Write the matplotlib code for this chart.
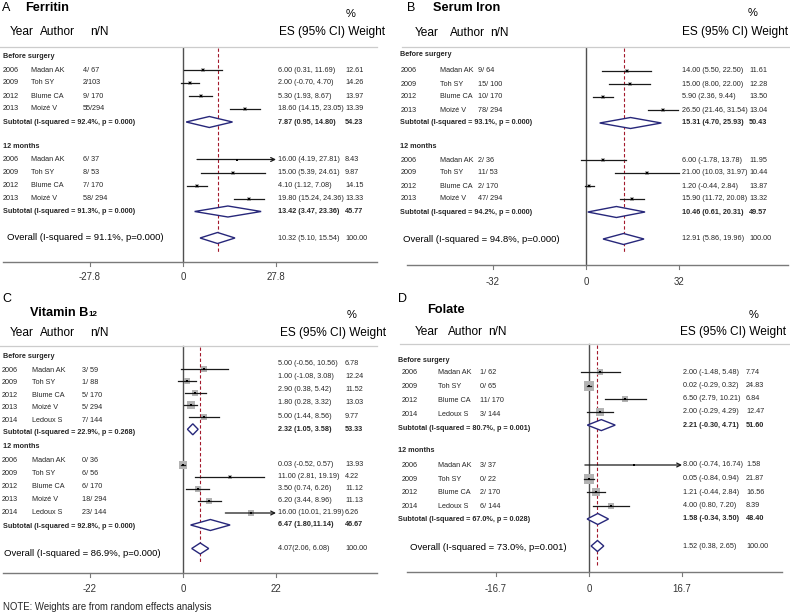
import math
import matplotlib
matplotlib.use("Agg")
import matplotlib.pyplot as plt
from matplotlib.patches import Polygon

plt.rcParams['font.family'] = ['Liberation Sans', 'DejaVu Sans']

# ------------------------------------------------------------------ data
authors4 = ["Madan AK", "Toh SY", "Blume CA", "Moizé V"]

# A: Ferritin
fer_years = ["2006", "2009", "2012", "2013"]
fer_authors = authors4
fer_nN_pre = ["4/ 67", "2/103", "9/ 170", "55/294"]
fer_es_pre = [6.00, 2.00, 5.30, 18.60]
fer_lo_pre = [0.31, -0.70, 1.93, 14.15]
fer_hi_pre = [11.69, 4.70, 8.67, 23.05]
fer_w_pre = [12.61, 14.26, 13.97, 13.39]
fer_nN_12 = ["6/ 37", "8/ 53", "7/ 170", "58/ 294"]
fer_es_12 = [16.00, 15.00, 4.10, 19.80]
fer_lo_12 = [4.19, 5.39, 1.12, 15.24]
fer_hi_12 = [27.81, 24.61, 7.08, 24.36]
fer_w_12 = [8.43, 9.87, 14.15, 13.33]
fer_sub_es = [7.87, 13.42]
fer_sub_lo = [0.95, 3.47]
fer_sub_hi = [14.80, 23.36]
fer_sub_w = [54.23, 45.77]
fer_sub_i2 = [92.4, 91.3]
fer_sub_p = ["0.000", "0.000"]
fer_all = [10.32, 5.10, 15.54]
fer_all_i2, fer_all_p = 91.1, "0.000"

# B: Serum Iron
iron_years = ["2006", "2009", "2012", "2013"]
iron_authors = authors4
iron_nN_pre = ["9/ 64", "15/ 100", "10/ 170", "78/ 294"]
iron_es_pre = [14.00, 15.00, 5.90, 26.50]
iron_lo_pre = [5.50, 8.00, 2.36, 21.46]
iron_hi_pre = [22.50, 22.00, 9.44, 31.54]
iron_w_pre = [11.61, 12.28, 13.50, 13.04]
iron_nN_12 = ["2/ 36", "11/ 53", "2/ 170", "47/ 294"]
iron_es_12 = [6.00, 21.00, 1.20, 15.90]
iron_lo_12 = [-1.78, 10.03, -0.44, 11.72]
iron_hi_12 = [13.78, 31.97, 2.84, 20.08]
iron_w_12 = [11.95, 10.44, 13.87, 13.32]
iron_sub_es = [15.31, 10.46]
iron_sub_lo = [4.70, 0.61]
iron_sub_hi = [25.93, 20.31]
iron_sub_w = [50.43, 49.57]
iron_sub_i2 = [93.1, 94.2]
iron_sub_p = ["0.000", "0.000"]
iron_all = [12.91, 5.86, 19.96]
iron_all_i2, iron_all_p = 94.8, "0.000"

# C: Vitamin B12
b12_years = ["2006", "2009", "2012", "2013", "2014"]
b12_authors = ["Madan AK", "Toh SY", "Blume CA", "Moizé V", "Ledoux S"]
b12_nN_pre = ["3/ 59", "1/ 88", "5/ 170", "5/ 294", "7/ 144"]
b12_es_pre = [5.00, 1.00, 2.90, 1.80, 5.00]
b12_lo_pre = [-0.56, -1.08, 0.38, 0.28, 1.44]
b12_hi_pre = [10.56, 3.08, 5.42, 3.32, 8.56]
b12_w_pre = [6.78, 12.24, 11.52, 13.03, 9.77]
b12_nN_12 = ["0/ 36", "6/ 56", "6/ 170", "18/ 294", "23/ 144"]
b12_es_12 = [0.03, 11.00, 3.50, 6.20, 16.00]
b12_lo_12 = [-0.52, 2.81, 0.74, 3.44, 10.01]
b12_hi_12 = [0.57, 19.19, 6.26, 8.96, 21.99]
b12_w_12 = [13.93, 4.22, 11.12, 11.13, 6.26]
b12_sub_es = [2.32, 6.47]
b12_sub_lo = [1.05, 1.80]
b12_sub_hi = [3.58, 11.14]
b12_sub_w = [53.33, 46.67]
b12_sub_i2 = [22.9, 92.8]
b12_sub_p = ["0.268", "0.000"]
b12_all = [4.07, 2.06, 6.08]
b12_all_i2, b12_all_p = 86.9, "0.000"
b12_text_override = {("sub", 1): "6.47 (1.80,11.14)", ("all", 0): "4.07(2.06, 6.08)"}

# D: Folate
fol_years = ["2006", "2009", "2012", "2014"]
fol_authors = ["Madan AK", "Toh SY", "Blume CA", "Ledoux S"]
fol_nN_pre = ["1/ 62", "0/ 65", "11/ 170", "3/ 144"]
fol_es_pre = [2.00, 0.02, 6.50, 2.00]
fol_lo_pre = [-1.48, -0.29, 2.79, -0.29]
fol_hi_pre = [5.48, 0.32, 10.21, 4.29]
fol_w_pre = [7.74, 24.83, 6.84, 12.47]
fol_nN_12 = ["3/ 37", "0/ 22", "2/ 170", "6/ 144"]
fol_es_12 = [8.00, 0.05, 1.21, 4.00]
fol_lo_12 = [-0.74, -0.84, -0.44, 0.80]
fol_hi_12 = [16.74, 0.94, 2.84, 7.20]
fol_w_12 = [1.58, 21.87, 16.56, 8.39]
fol_sub_es = [2.21, 1.58]
fol_sub_lo = [-0.30, -0.34]
fol_sub_hi = [4.71, 3.50]
fol_sub_w = [51.60, 48.40]
fol_sub_i2 = [80.7, 67.0]
fol_sub_p = ["0.001", "0.028"]
fol_all = [1.52, 0.38, 2.65]
fol_all_i2, fol_all_p = 73.0, "0.001"

section_names = ["Before surgery", "12 months"]
header_cols = ["Year", "Author", "n/N", "ES (95% CI) Weight"]
note_text = "NOTE: Weights are from random effects analysis"

# ------------------------------------------------------------------ panels (data + layout in pixels)
panels = [
    dict(letter="A", title="Ferritin", sub=None,
         years=fer_years, authors=fer_authors,
         nN=[fer_nN_pre, fer_nN_12], es=[fer_es_pre, fer_es_12], lo=[fer_lo_pre, fer_lo_12],
         hi=[fer_hi_pre, fer_hi_12], w=[fer_w_pre, fer_w_12],
         sub_es=fer_sub_es, sub_lo=fer_sub_lo, sub_hi=fer_sub_hi, sub_w=fer_sub_w,
         sub_i2=fer_sub_i2, sub_p=fer_sub_p, all=fer_all, all_i2=fer_all_i2, all_p=fer_all_p,
         override={}, tick=27.8, clip=27.8,
         x0=0, y0=0, y1=300, zero=183, span=93,
         letter_xy=(2, 8), title_xy=(25, 8), pct_xy=(351, 14), head_y=32,
         head_x=(10, 40, 90, 279), top=(47, 0, 377),
         cx=dict(year=3, author=31, nN=83, es=278, w=345, grp=3, all=7),
         lab=dict(hdr=(56, 146), first=(70, 159.5), step=(13.0, 13.0), all=238),
         mk=dict(first=(70, 159.5), step=(13.0, 13.0), all=238),
         est=dict(first=(70, 159.5), step=(13.0, 13.0), all=238),
         zline=(48, 262), dash=(48, 253), axis=(262, 3, 377), tl_y=277, k=1.0),
    dict(letter="B", title="Serum Iron", sub=None,
         years=iron_years, authors=iron_authors,
         nN=[iron_nN_pre, iron_nN_12], es=[iron_es_pre, iron_es_12], lo=[iron_lo_pre, iron_lo_12],
         hi=[iron_hi_pre, iron_hi_12], w=[iron_w_pre, iron_w_12],
         sub_es=iron_sub_es, sub_lo=iron_sub_lo, sub_hi=iron_sub_hi, sub_w=iron_sub_w,
         sub_i2=iron_sub_i2, sub_p=iron_sub_p, all=iron_all, all_i2=iron_all_i2, all_p=iron_all_p,
         override={}, tick=32, clip=32,
         x0=395, y0=0, y1=300, zero=586, span=93,
         letter_xy=(407, 8), title_xy=(433, 8), pct_xy=(753, 13), head_y=32.5,
         head_x=(415, 450, 490, 682), top=(47, 402, 790),
         cx=dict(year=401, author=440, nN=478, es=682, w=749, grp=400, all=403),
         lab=dict(hdr=(54.5, 147), first=(71, 160), step=(13.0, 13.0), all=239),
         mk=dict(first=(71, 160), step=(13.0, 13.0), all=239),
         est=dict(first=(71, 160), step=(13.0, 13.0), all=239),
         zline=(48, 265), dash=(48, 252), axis=(265, 407, 788), tl_y=282, k=1.0),
    dict(letter="C", title="Vitamin B", sub="12",
         years=b12_years, authors=b12_authors,
         nN=[b12_nN_pre, b12_nN_12], es=[b12_es_pre, b12_es_12], lo=[b12_lo_pre, b12_lo_12],
         hi=[b12_hi_pre, b12_hi_12], w=[b12_w_pre, b12_w_12],
         sub_es=b12_sub_es, sub_lo=b12_sub_lo, sub_hi=b12_sub_hi, sub_w=b12_sub_w,
         sub_i2=b12_sub_i2, sub_p=b12_sub_p, all=b12_all, all_i2=b12_all_i2, all_p=b12_all_p,
         override=b12_text_override, tick=22, clip=21.99,
         x0=0, y0=295, y1=614, zero=183, span=93,
         letter_xy=(2, 299), title_xy=(30, 313), pct_xy=(352, 315), head_y=333,
         head_x=(10, 40, 90, 280), top=(346, 0, 377),
         cx=dict(year=2, author=32, nN=82, es=278, w=345, grp=3, all=4),
         lab=dict(hdr=(356, 446), first=(370, 460), step=(12.55, 13.2), all=553),
         mk=dict(first=(369.3, 465), step=(12.0, 12.0), all=548.5),
         est=dict(first=(363.3, 464), step=(13.2, 12.2), all=548),
         zline=(346, 573), dash=(347, 563), axis=(573, 3, 377), tl_y=589, k=2.0),
    dict(letter="D", title="Folate", sub=None,
         years=fol_years, authors=fol_authors,
         nN=[fol_nN_pre, fol_nN_12], es=[fol_es_pre, fol_es_12], lo=[fol_lo_pre, fol_lo_12],
         hi=[fol_hi_pre, fol_hi_12], w=[fol_w_pre, fol_w_12],
         sub_es=fol_sub_es, sub_lo=fol_sub_lo, sub_hi=fol_sub_hi, sub_w=fol_sub_w,
         sub_i2=fol_sub_i2, sub_p=fol_sub_p, all=fol_all, all_i2=fol_all_i2, all_p=fol_all_p,
         override={}, tick=16.7, clip=16.7,
         x0=395, y0=295, y1=614, zero=589, span=93,
         letter_xy=(398, 299), title_xy=(427, 310), pct_xy=(754, 315), head_y=332,
         head_x=(415, 448, 488, 680), top=(344, 400, 790),
         cx=dict(year=402, author=438, nN=480, es=683, w=746, grp=398, all=410),
         lab=dict(hdr=(360, 451), first=(373, 465.5), step=(13.75, 13.6), all=547),
         mk=dict(first=(372.3, 465), step=(13.2, 13.5), all=546),
         est=dict(first=(372.3, 465), step=(13.2, 13.5), all=546),
         zline=(344, 572), dash=(345, 565), axis=(572, 407, 782), tl_y=589, k=2.0),
]

# ------------------------------------------------------------------ style
W, H = 790, 614
C_TXT = '#262626'
C_CI = '#1a1a1a'
C_BOX = '#b3b3b3'
C_DIA = '#27277a'
C_RED = '#a3182b'
C_ZERO = '#505050'
C_TOP = '#cccccc'
C_AX = '#7a7a7a'
FS_ROW, FS_HDR, FS_TTL, FS_LET, FS_ALL, FS_TICK, FS_PCT = 5.2, 8.6, 9.2, 9.0, 6.8, 6.9, 8.0

fig = plt.figure(figsize=(W / 100, H / 100), dpi=100)
fig.patch.set_facecolor('white')


def fmt_es(e, l, h):
    return f"{e:.2f} ({l:.2f}, {h:.2f})"


for P in panels:
    x0, y0, y1 = P['x0'], P['y0'], P['y1']
    pw = 395
    ax = fig.add_axes([x0 / W, 1 - y1 / H, pw / W, (y1 - y0) / H])
    ax.set_axis_off()
    ppu = P['span'] / P['tick']
    ax.set_xlim((x0 - P['zero']) / ppu, (x0 + pw - P['zero']) / ppu)
    ax.set_ylim(y1, y0)

    def X(px):
        return (px - P['zero']) / ppu

    def T(px, py, s, **kw):
        kw.setdefault('color', C_TXT)
        kw.setdefault('fontsize', FS_ROW)
        kw.setdefault('va', 'center')
        kw.setdefault('ha', 'left')
        return ax.text(X(px), py, s, clip_on=False, **kw)

    # titles
    T(*P['letter_xy'], P['letter'], fontsize=FS_LET, color='black')
    tt = T(*P['title_xy'], P['title'], fontsize=FS_TTL, fontweight='bold', color='black')
    if P['sub']:
        ax.annotate(P['sub'], xy=(1.0, 0.05), xycoords=tt, xytext=(0.3, 0),
                    textcoords='offset points', fontsize=5.8, fontweight='bold',
                    va='bottom', ha='left', color='black')
    T(*P['pct_xy'], "%", fontsize=FS_PCT, color='black', ha='center')
    hy = P['head_y']
    for hx, lab in zip(P['head_x'], header_cols):
        T(hx, hy, lab, fontsize=FS_HDR, color='black')

    # top rule
    ty, tx0, tx1 = P['top']
    ax.plot([X(tx0), X(tx1)], [ty, ty], color=C_TOP, lw=0.9, clip_on=False)

    # zero line and overall dashed line
    ax.plot([0, 0], list(P['zline']), color=C_ZERO, lw=1.0, zorder=1)
    ax.plot([P['all'][0]] * 2, list(P['dash']), color=C_RED, lw=0.8,
            ls=(0, (3, 2)), zorder=1)

    cx = P['cx']
    lab, mk, est = P['lab'], P['mk'], P['est']
    dh = 5.5

    for s in range(2):
        T(cx['grp'], lab['hdr'][s], section_names[s], fontweight='bold')
        n = len(P['years'])
        for i in range(n):
            yl = lab['first'][s] + lab['step'][s] * i
            ym = mk['first'][s] + mk['step'][s] * i
            ye = est['first'][s] + est['step'][s] * i
            T(cx['year'], yl, P['years'][i])
            T(cx['author'], yl, P['authors'][i])
            T(cx['nN'], yl, P['nN'][s][i])
            e, l, h, w = P['es'][s][i], P['lo'][s][i], P['hi'][s][i], P['w'][s][i]
            T(cx['es'], ye, fmt_es(e, l, h))
            T(cx['w'], ye, f"{w:.2f}")
            side = P['k'] * math.sqrt(w)
            ax.scatter([e], [ym], s=(side * 0.72) ** 2, marker='s', color=C_BOX,
                       linewidths=0, zorder=2)
            if h >= P['clip']:
                ax.annotate('', xy=(P['tick'], ym), xytext=(l, ym),
                            arrowprops=dict(arrowstyle='->', lw=0.9, color=C_CI,
                                            shrinkA=0, shrinkB=0, mutation_scale=7),
                            zorder=3)
            else:
                ax.plot([l, h], [ym, ym], color=C_CI, lw=0.9, zorder=3)
            ax.scatter([e], [ym], s=(2.5 * 0.72) ** 2, marker='s', color='black',
                       linewidths=0, zorder=4)
        # subtotal
        yl = lab['first'][s] + lab['step'][s] * n
        ym = mk['first'][s] + mk['step'][s] * n
        ye = est['first'][s] + est['step'][s] * n
        T(cx['grp'], yl, f"Subtotal (I-squared = {P['sub_i2'][s]:.1f}%, p = {P['sub_p'][s]})",
          fontweight='bold')
        e, l, h = P['sub_es'][s], P['sub_lo'][s], P['sub_hi'][s]
        txt = P['override'].get(('sub', s), fmt_es(e, l, h))
        T(cx['es'], ye, txt, fontweight='bold')
        T(cx['w'], ye, f"{P['sub_w'][s]:.2f}", fontweight='bold')
        ax.add_patch(Polygon([(l, ym), (e, ym - dh), (h, ym), (e, ym + dh)], closed=True,
                             facecolor='white', edgecolor=C_DIA, lw=1.0, zorder=3))

    # overall
    e, l, h = P['all']
    T(cx['all'], lab['all'], f"Overall (I-squared = {P['all_i2']:.1f}%, p={P['all_p']})",
      fontsize=FS_ALL, color='black')
    T(cx['es'], est['all'], P['override'].get(('all', 0), fmt_es(e, l, h)))
    T(cx['w'], est['all'], "100.00")
    ym = mk['all']
    ax.add_patch(Polygon([(l, ym), (e, ym - dh), (h, ym), (e, ym + dh)], closed=True,
                         facecolor='white', edgecolor=C_DIA, lw=1.0, zorder=3))

    # x axis
    ay, ax0, ax1 = P['axis']
    ax.plot([X(ax0), X(ax1)], [ay, ay], color=C_AX, lw=1.0, clip_on=False)
    tk = P['tick']
    tick_vals = [-tk, 0, tk]
    for v in tick_vals:
        ax.plot([v, v], [ay, ay + 4], color=C_AX, lw=0.8, clip_on=False)
        lbl = "0" if v == 0 else (f"{v:g}")
        ax.text(v, P['tl_y'], lbl, fontsize=FS_TICK, ha='center', va='center',
                color='#333333', clip_on=False)

fig.text(3 / W, 1 - 607 / H, note_text, fontsize=6.9, color='#262626', ha='left', va='center')

fig.savefig("out.png", dpi=100)
